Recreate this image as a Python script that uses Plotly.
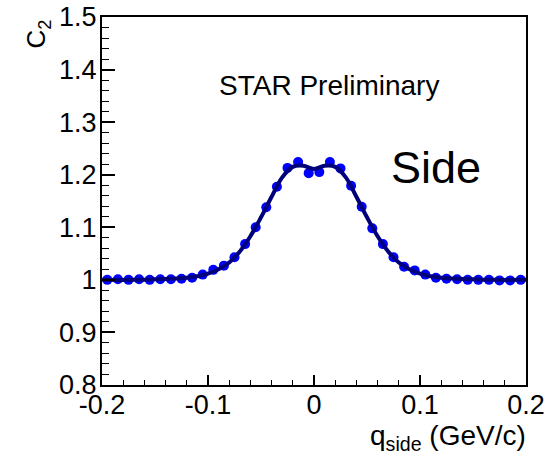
import plotly.graph_objects as go

# ---- data ----
q_side = [-0.195, -0.185, -0.175, -0.165, -0.155, -0.145, -0.135, -0.125, -0.115, -0.105,
          -0.095, -0.085, -0.075, -0.065, -0.055, -0.045, -0.035, -0.025, -0.015, -0.005,
          0.005, 0.015, 0.025, 0.035, 0.045, 0.055, 0.065, 0.075, 0.085, 0.095,
          0.105, 0.115, 0.125, 0.135, 0.145, 0.155, 0.165, 0.175, 0.185, 0.195]
c2 = [1.000, 1.001, 1.000, 1.001, 1.000, 1.001, 1.001, 1.002, 1.004, 1.010,
      1.019, 1.027, 1.043, 1.068, 1.100, 1.138, 1.177, 1.213, 1.224, 1.203,
      1.205, 1.224, 1.212, 1.179, 1.139, 1.098, 1.068, 1.043, 1.025, 1.018,
      1.010, 1.004, 1.002, 1.001, 1.000, 1.000, 1.000, 0.999, 0.999, 1.000]

fit_q = [-0.2, -0.17, -0.15, -0.135, -0.12, -0.11, -0.10, -0.09, -0.08, -0.07, -0.06,
         -0.05, -0.04, -0.03, -0.02, -0.01, 0.0, 0.01, 0.02, 0.03, 0.04, 0.05, 0.06,
         0.07, 0.08, 0.09, 0.10, 0.11, 0.12, 0.135, 0.15, 0.17, 0.2]
fit_c2 = [1.000, 1.000, 1.001, 1.002, 1.004, 1.007, 1.012, 1.020, 1.033, 1.054, 1.083,
          1.119, 1.158, 1.195, 1.215, 1.217, 1.211, 1.217, 1.215, 1.195, 1.158, 1.119, 1.083,
          1.054, 1.033, 1.020, 1.012, 1.007, 1.004, 1.002, 1.001, 1.000, 1.000]

x_tickvals = [-0.2, -0.1, 0, 0.1, 0.2]
x_ticktext = ["-0.2", "-0.1", "0", "0.1", "0.2"]
y_tickvals = [0.8, 0.9, 1.0, 1.1, 1.2, 1.3, 1.4, 1.5]
y_ticktext = ["0.8", "0.9", "1", "1.1", "1.2", "1.3", "1.4", "1.5"]

FONT = "Liberation Sans, Arial, Helvetica, sans-serif"

fig = go.Figure()
fig.add_trace(go.Scatter(x=q_side, y=c2, mode="markers",
                         marker=dict(color="#0000ff", size=10, line=dict(width=0)),
                         showlegend=False, cliponaxis=False))
fig.add_trace(go.Scatter(x=fit_q, y=fit_c2, mode="lines",
                         line=dict(color="#00007a", width=4, shape="spline", smoothing=1.0),
                         showlegend=False))

fig.update_layout(
    width=548, height=454,
    margin=dict(l=102, r=22, t=17, b=69),
    paper_bgcolor="white", plot_bgcolor="white",
    font=dict(family=FONT, color="black"),
    xaxis=dict(range=[-0.2, 0.2], tickvals=x_tickvals, ticktext=x_ticktext,
               ticks="inside", ticklen=10, tickwidth=1.5, tickcolor="black",
               minor=dict(dtick=0.02, tick0=0, ticks="inside", ticklen=5, tickwidth=1.2, tickcolor="black"),
               showline=True, linecolor="black", linewidth=2, mirror=True, automargin=False,
               showgrid=False, zeroline=False, tickfont=dict(size=27), ticklabelstandoff=-5),
    yaxis=dict(range=[0.8, 1.5], tickvals=y_tickvals, ticktext=y_ticktext,
               ticks="inside", ticklen=13, tickwidth=1.5, tickcolor="black",
               minor=dict(dtick=0.02, tick0=0.8, ticks="inside", ticklen=7, tickwidth=1.2, tickcolor="black"),
               showline=True, linecolor="black", linewidth=2, mirror=True, automargin=False,
               showgrid=False, zeroline=False, tickfont=dict(size=27), ticklabelstandoff=-2),
)

fig.add_annotation(x=0.014, y=1.369, xref="x", yref="y", text="STAR Preliminary",
                   showarrow=False, xanchor="center", yanchor="middle",
                   font=dict(size=28, family=FONT))
fig.add_annotation(x=0.115, y=1.213, xref="x", yref="y", text="Side",
                   showarrow=False, xanchor="center", yanchor="middle",
                   font=dict(size=45, family=FONT))
fig.add_annotation(x=-0.151, y=1.0, xref="paper", yref="paper", text="C<sub>2</sub>",
                   showarrow=False, textangle=-90, xanchor="center", yanchor="top",
                   font=dict(size=26, family=FONT))
fig.add_annotation(x=1.005, y=-0.09, xref="paper", yref="paper",
                   text="q<sub>side</sub> (GeV/c)",
                   showarrow=False, xanchor="right", yanchor="top",
                   font=dict(size=28, family=FONT))

fig.write_html("out.html")
